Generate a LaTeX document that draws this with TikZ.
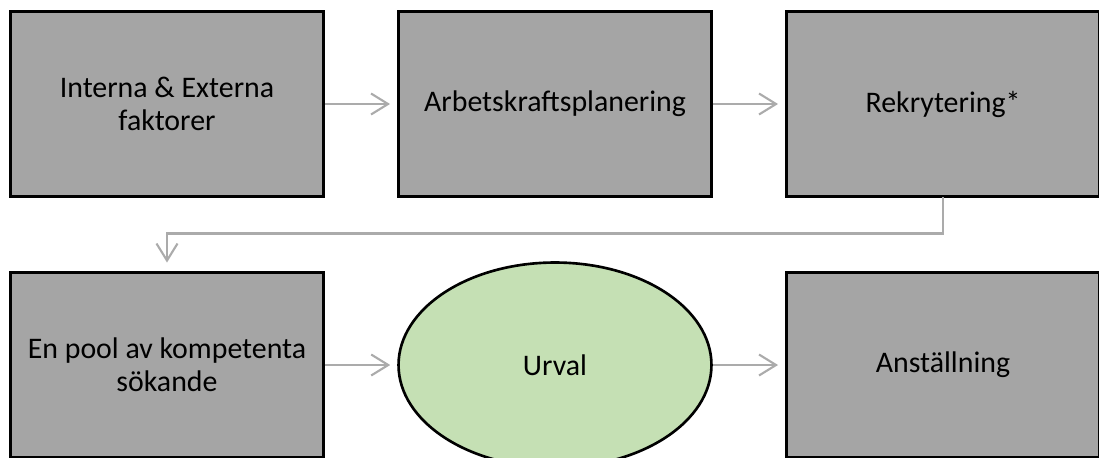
\documentclass[tikz,border=0pt]{standalone}
\usepackage{fontspec}
\setmainfont{Carlito}
\usetikzlibrary{arrows.meta,shapes.geometric}
\definecolor{boxgray}{HTML}{A5A5A5}
\definecolor{linegray}{HTML}{ABABAB}
\definecolor{urvalgreen}{HTML}{C5E0B4}
\tikzset{
  stepbox/.style={draw=black, line width=1.7pt, fill=boxgray, minimum width=6.26cm,
    minimum height=3.72cm, align=center, font=\fontsize{17}{19}\selectfont},
  urvalnode/.style={ellipse, draw=black, line width=1.5pt, fill=urvalgreen,
    minimum width=6.26cm, minimum height=4.1cm, font=\fontsize{17}{19}\selectfont},
  conn/.style={draw=linegray, line width=1.2pt,
    -{Straight Barb[length=0.34cm, width=0.42cm, line width=1.2pt]}}
}
\begin{document}
\begin{tikzpicture}[x=0.02cm, y=-0.02cm]
  % Frame
  \useasboundingbox (0,0) rectangle (1099,457);
  \clip (0,0) rectangle (1099,457);
  % Top row
  \node[stepbox] (faktorer) at (167,104) {Interna \& Externa\\faktorer};
  \node[stepbox] (planering) at (555,104) {Arbetskraftsplanering};
  \node[stepbox] (rekrytering) at (943,104) {Rekrytering*};
  % Bottom row
  \node[stepbox] (pool) at (167,365) {En pool av kompetenta\\sökande};
  \node[urvalnode] (urval) at (555,365) {Urval};
  \node[stepbox] (anstallning) at (943,365) {Anställning};
  % Connectors
  \draw[conn, shorten >=0.14cm] (faktorer) -- (planering);
  \draw[conn, shorten >=0.14cm] (planering) -- (rekrytering);
  \draw[conn, line cap=rect, shorten >=0.16cm] (rekrytering.south) -- ++(0,35)
    coordinate (knee) -| (pool.north);
  \draw[conn, shorten >=0.14cm] (pool) -- (urval);
  \draw[conn, shorten >=0.14cm] (urval) -- (anstallning);
\end{tikzpicture}
\end{document}
